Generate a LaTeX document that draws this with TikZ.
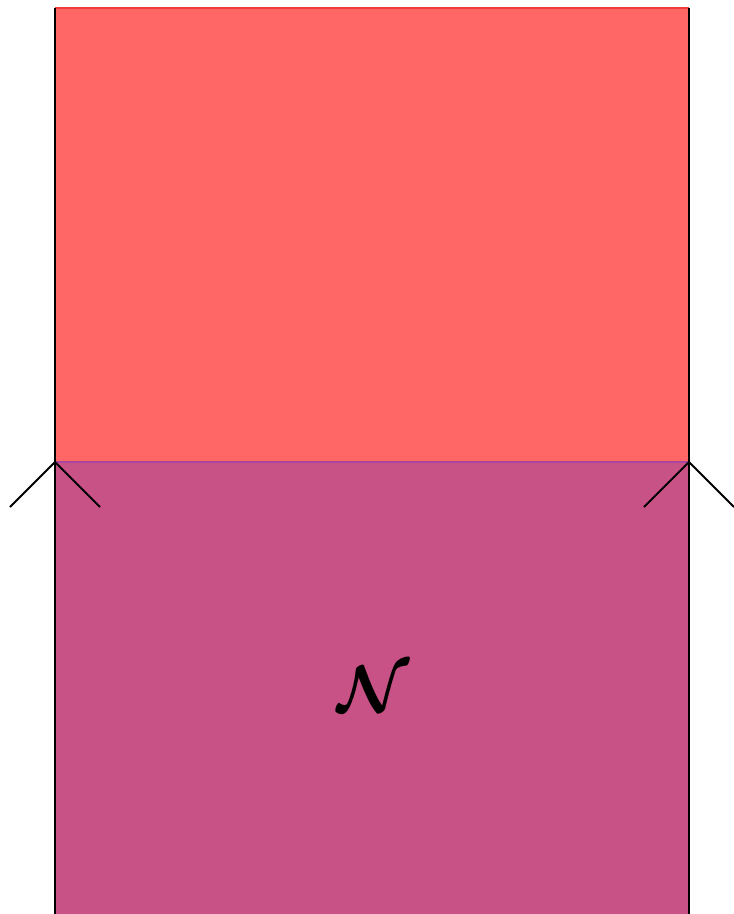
\documentclass[tikz,border=0pt]{standalone}
\usepackage{bm}
\definecolor{zonered}{RGB}{255,102,102}
\definecolor{zonepurple}{RGB}{200,82,133}
\definecolor{edgered}{RGB}{240,60,60}
\definecolor{edgepurple}{RGB}{170,70,160}
\begin{document}
\begin{tikzpicture}[x=1pt,y=-1pt,
  wall/.style={line width=2.2pt,black},
  tick/.style={line width=2pt,black},
  redzone/.style={fill=zonered},
  purplezone/.style={fill=zonepurple}]
\useasboundingbox (0,0) rectangle (734,914);
\coordinate (tl) at (55,8);
\coordinate (tr) at (689,8);
\coordinate (ml) at (55,462);
\coordinate (mr) at (689,462);
\coordinate (bl) at (55,914);
\coordinate (br) at (689,914);
\fill[redzone] (tl) rectangle (mr);
\fill[purplezone] (ml) rectangle (br);
\draw[line width=1.5pt,edgered] (tl) -- (tr);
\draw[line width=1.5pt,edgepurple] (ml) -- (mr);
\draw[wall] (tl) -- (bl);
\draw[wall] (tr) -- (br);
\coordinate (la) at (10,507);
\coordinate (lb) at (100,507);
\coordinate (ra) at (644,507);
\coordinate (rb) at (734,507);
\draw[tick] (la) -- (ml) -- (lb);
\draw[tick] (ra) -- (mr) -- (rb);
\node[scale=6.6,inner sep=0pt] (N) at (373,689) {$\bm{\mathcal{N}}$};
\end{tikzpicture}
\end{document}
